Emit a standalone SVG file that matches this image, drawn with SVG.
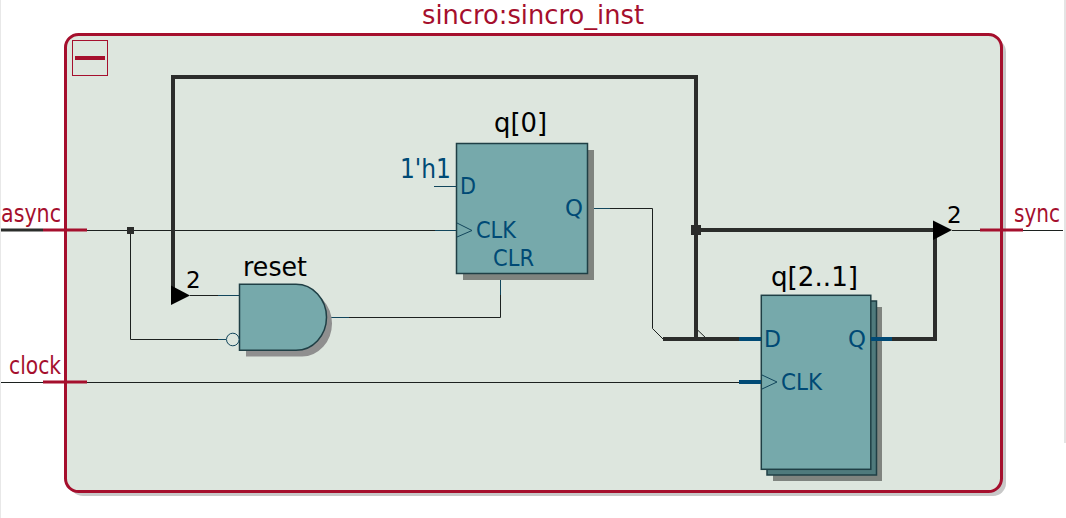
<svg xmlns="http://www.w3.org/2000/svg" width="1066" height="518" viewBox="0 0 1066 518">
<style>
text{font-family:"DejaVu Sans","Noto Sans",sans-serif}
.red{fill:#a50f2d;font-size:24.5px}
.blk{fill:#000;font-size:27px}
.blu{fill:#004a75;font-size:23.5px}
.num{fill:#000;font-size:23px}
.body{fill:#76a9ab;stroke:#1f3f45;stroke-width:1.5}
.thin{fill:none;stroke:#1c211f;stroke-width:1}
.thick{fill:none;stroke:#2b2d2b;stroke-width:4}
.port{fill:none;stroke:#a50f2d;stroke-width:3}
.pin{fill:none;stroke:#004a75;stroke-width:4}
.pint{fill:none;stroke:#12465c;stroke-width:1}
</style>
<rect width="1066" height="518" fill="#fff"/>
<rect x="0" y="0" width="1" height="518" fill="#e8e8e8"/>
<rect x="1064" y="0" width="2" height="443" fill="#e4e4e4"/>
<g id="container">
<rect x="70" y="39" width="936" height="457" rx="13" fill="#c8c8c8"/>
<rect x="65.500" y="34.500" width="936" height="457" rx="13" fill="#dde6de" stroke="#a50f2d" stroke-width="3"/>
<text class="red" x="422" y="24" style="font-size:26px" textLength="222" lengthAdjust="spacingAndGlyphs">sincro:sincro_inst</text>
<rect x="72.500" y="40.500" width="35" height="35" fill="none" stroke="#a50f2d" stroke-width="1"/>
<rect x="75" y="56" width="30" height="4" fill="#a50f2d"/>
</g>
<g id="connectors">
<path class="thin" d="M87 230.500H457M130.500 230.500V339.500H226M327 317.500H500.500V273M190 295.500H240M588 208.500H652.500V328.500L663 339M696 328.500L707 339M952 230.500H1063M1 382.500H739"/>
<path class="thick" d="M173 290V77H696V339M663 339H745M696 230H940M890 339H935V228"/>
<path class="thick" style="stroke-width:3" d="M1 230H43"/>
<path class="pint" d="M588 208.500H610M435 230.500H457M218 295.500H240M327 317.500H349M500.500 273V295M218 339.500H226"/>
<rect x="127" y="227" width="7" height="7" fill="#2b2d2b"/>
<rect x="691" y="225" width="10" height="10" fill="#2b2d2b"/>
<path d="M171 285.500L190 295.500L171 305Z" fill="#000"/>
<path d="M933 220.500L952 230L933 240Z" fill="#000"/>
<text class="num" x="186" y="288">2</text>
<text class="num" x="947" y="223">2</text>
</g>
<g id="port-async">
<path class="port" d="M43 230H87"/>
<text class="red" x="1" y="222" textLength="60" lengthAdjust="spacingAndGlyphs">async</text>
</g>
<g id="port-clock">
<path class="port" d="M43 382H87"/>
<text class="red" x="9" y="374" textLength="52" lengthAdjust="spacingAndGlyphs">clock</text>
</g>
<g id="port-sync">
<path class="port" d="M980 230H1023"/>
<text class="red" x="1014" y="222" style="font-stretch:condensed" textLength="46" lengthAdjust="spacingAndGlyphs">sync</text>
</g>
<g id="reset">
<path d="M246 290.500H302A30 33 0 0 1 302 356.500H246Z" fill="#8f8f8f"/>
<path class="body" d="M239.500 284.300H296A30.500 33 0 0 1 296 350.300H239.500Z"/>
<circle cx="232.800" cy="339.500" r="6.300" fill="#dde6de" stroke="#12465c" stroke-width="1"/>
<text class="blk" x="243" y="276" textLength="64" lengthAdjust="spacingAndGlyphs">reset</text>
</g>
<g id="q0">
<rect x="463" y="150" width="131" height="130" fill="#7f847f"/>
<rect class="body" x="456.500" y="143.500" width="131" height="130"/>
<path class="pint" d="M434 186.500H456.500M457 223L472 230.500L457 237"/>
<text class="blk" x="494" y="132" textLength="53" lengthAdjust="spacingAndGlyphs">q[0]</text>
<text class="blu" x="400" y="178" style="font-size:27px" textLength="51" lengthAdjust="spacingAndGlyphs">1'h1</text>
<text class="blu" x="460" y="194" textLength="16" lengthAdjust="spacingAndGlyphs">D</text>
<text class="blu" x="476" y="238" textLength="40" lengthAdjust="spacingAndGlyphs">CLK</text>
<text class="blu" x="493" y="265.500" textLength="41" lengthAdjust="spacingAndGlyphs">CLR</text>
<text class="blu" x="565" y="216" textLength="18" lengthAdjust="spacingAndGlyphs">Q</text>
</g>
<g id="q21">
<rect x="773" y="307" width="109" height="174" fill="#7f847f"/>
<rect x="767" y="301" width="109.500" height="174" fill="#4f7a7c" stroke="#1f3f45" stroke-width="1.500"/>
<rect class="body" x="761.300" y="295.300" width="109.500" height="174"/>
<path class="pin" d="M739 339H761M739 382H761M871 339H892"/>
<path class="pint" d="M762 375L777 382L762 389"/>
<text class="blk" x="771" y="286" textLength="87" lengthAdjust="spacingAndGlyphs">q[2..1]</text>
<text class="blu" x="764" y="347" textLength="17" lengthAdjust="spacingAndGlyphs">D</text>
<text class="blu" x="781" y="390" textLength="41" lengthAdjust="spacingAndGlyphs">CLK</text>
<text class="blu" x="848" y="347" textLength="18" lengthAdjust="spacingAndGlyphs">Q</text>
</g>
</svg>
